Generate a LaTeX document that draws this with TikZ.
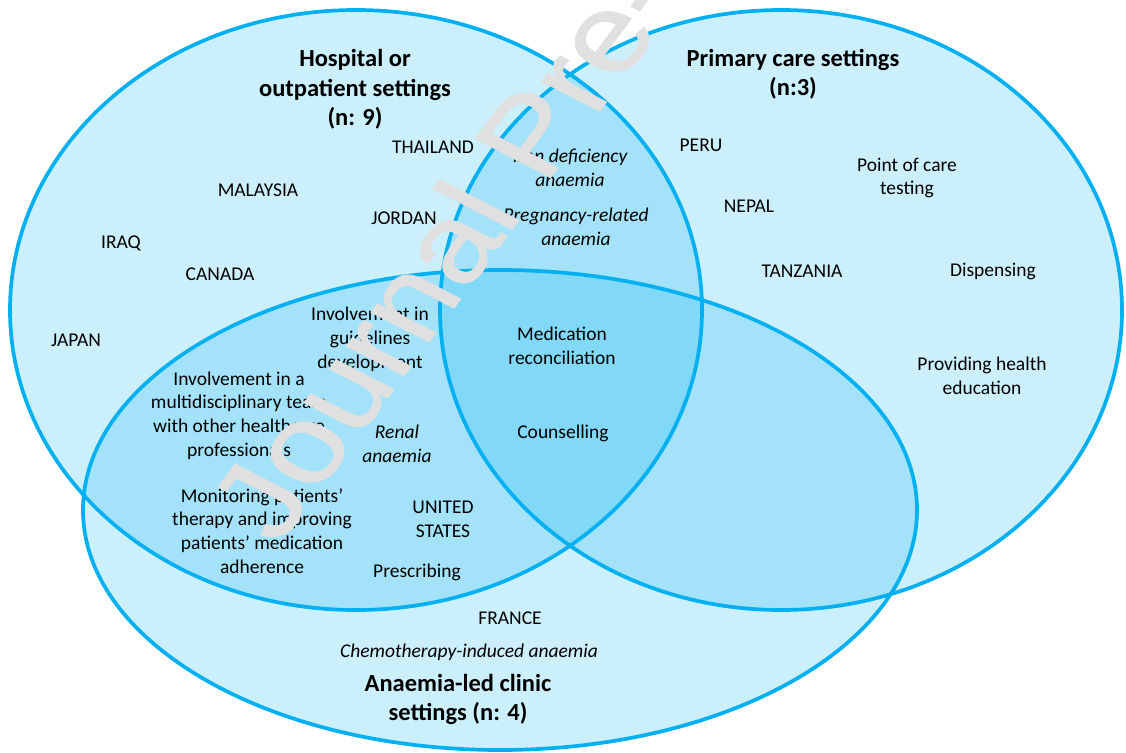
\documentclass[tikz,border=0pt]{standalone}
\usepackage{fontspec}
\setmainfont{Carlito}
\newfontfamily\wmfont[FakeBold=1]{Liberation Sans}
\definecolor{setblue}{HTML}{00B0F0}
\begin{document}
\begin{tikzpicture}[x=1pt,y=-1pt,
  lbl/.style={align=center, font=\fontsize{19.5}{23.8}\selectfont, inner sep=0pt},
  ital/.style={align=center, font=\fontsize{19.5}{23.8}\selectfont\itshape, inner sep=0pt},
  head/.style={align=center, font=\fontsize{24.5}{29.5}\selectfont\bfseries, inner sep=0pt},
  setfill/.style={fill=setblue, fill opacity=0.2},
  setline/.style={draw=setblue, line width=3.7pt}]
\useasboundingbox[fill=white] (0,0) rectangle (1126,752);
% fills
\fill[setfill] (356,310) ellipse [x radius=346pt, y radius=300pt];
\fill[setfill] (781,310) ellipse [x radius=341pt, y radius=300pt];
\fill[setfill] (500,510) ellipse [x radius=417pt, y radius=240pt];
% borders
\draw[setline] (356,310) ellipse [x radius=346pt, y radius=300pt];
\draw[setline] (781,310) ellipse [x radius=341pt, y radius=300pt];
\draw[setline] (500,510) ellipse [x radius=417pt, y radius=240pt];
% headings
\node[head] (hosp) at (355,89.5) {Hospital or\\outpatient settings\\(n: 9)};
\node[head] (prim) at (793,74) {Primary care settings\\(n:3)};
\node[head] (anae) at (458,699.5) {Anaemia-led clinic\\settings (n: 4)};
% hospital only
\node[lbl] (thai) at (433,147) {THAILAND};
\node[lbl] (mala) at (258,190) {MALAYSIA};
\node[lbl] (jord) at (404,218) {JORDAN};
\node[lbl] (iraq) at (121,243) {IRAQ};
\node[lbl] (cana) at (220,274) {CANADA};
\node[lbl] (japa) at (76,340) {JAPAN};
% hospital & primary
\node[ital] (iron) at (570,168) {Iron deficiency\\anaemia};
\node[ital] (preg) at (576,227) {Pregnancy-related\\anaemia};
% primary only
\node[lbl] (peru) at (701,145) {PERU};
\node[lbl] (poc) at (907,178) {Point of care\\testing};
\node[lbl] (nepa) at (749,206) {NEPAL};
\node[lbl] (tanz) at (802,271) {TANZANIA};
\node[lbl] (disp) at (993,271) {Dispensing};
\node[lbl] (edu) at (982,376) {Providing health\\education};
% hospital & anaemia
\node[lbl] (guid) at (370,339) {Involvement in\\guidelines\\development};
\node[lbl] (mdt) at (239,415.5) {Involvement in a\\multidisciplinary team\\with other healthcare\\professionals};
\node[ital] (rena) at (397,444) {Renal\\anaemia};
\node[lbl] (moni) at (262,531) {Monitoring patients’\\therapy and improving\\patients’ medication\\adherence};
\node[lbl] (usa) at (443,519) {UNITED\\STATES};
\node[lbl] (pres) at (417,572) {Prescribing};
% all three
\node[lbl] (medr) at (562,346) {Medication\\reconciliation};
\node[lbl] (coun) at (563,433) {Counselling};
% anaemia only
\node[lbl] (fran) at (510,618) {FRANCE};
\node[ital] (chem) at (469,652) {Chemotherapy-induced anaemia};
% watermark
\begin{scope}
\clip (0,0) rectangle (1126,752);
\node[cm={0.749,1.013,-1.09,0.56,(0,0)}, anchor=base west, inner sep=0pt, text=black!12,
  font=\wmfont\fontsize{100}{100}\selectfont] (wm) at (278,546) {Journal Pre-proof};
\end{scope}
\end{tikzpicture}
\end{document}
